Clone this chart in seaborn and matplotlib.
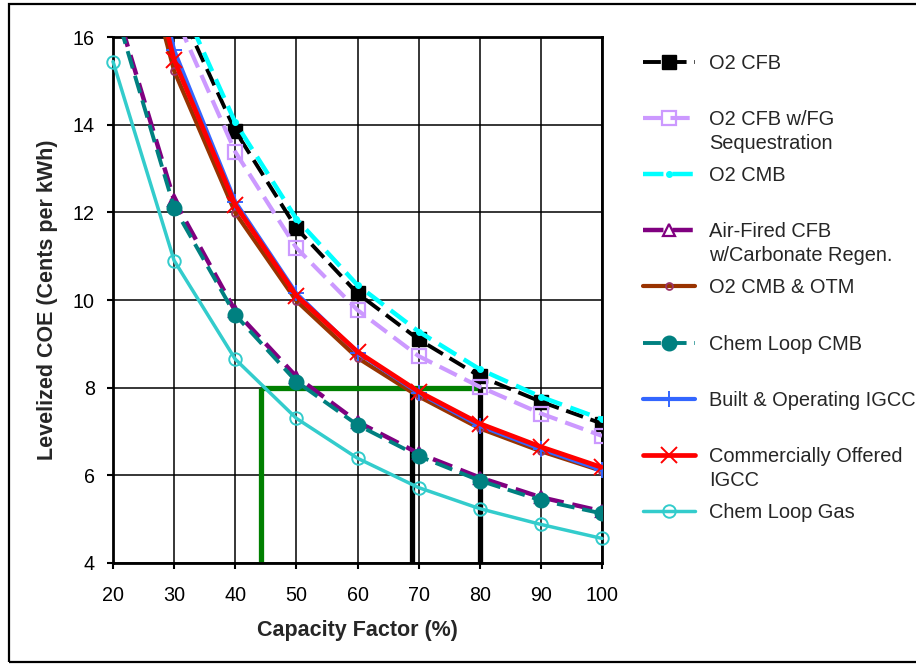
import matplotlib
matplotlib.use("Agg")
import matplotlib.pyplot as plt
import seaborn as sns
from matplotlib.patches import Rectangle

# ---------------- data ----------------
capacity_factor = [20, 30, 40, 50, 60, 70, 80, 90, 100]

o2_cfb          = [21.5, 16.90, 13.86, 11.64, 10.15, 9.10, 8.26, 7.68, 7.18]
o2_cfb_fg       = [21.0, 16.54, 13.38, 11.19, 9.77, 8.72, 8.02, 7.41, 6.90]
o2_cmb          = [22.0, 17.15, 14.05, 11.85, 10.34, 9.28, 8.42, 7.79, 7.28]
air_fired_cfb   = [16.9, 12.28, 9.75, 8.25, 7.22, 6.50, 5.95, 5.50, 5.18]
o2_cmb_otm      = [20.5, 15.23, 11.99, 9.98, 8.68, 7.80, 7.07, 6.55, 6.10]
chem_loop_cmb   = [16.8, 12.11, 9.66, 8.14, 7.15, 6.44, 5.88, 5.43, 5.13]
built_igcc      = [21.5, 15.70, 12.24, 10.15, 8.80, 7.88, 7.13, 6.60, 6.12]
commercial_igcc = [21.0, 15.48, 12.17, 10.10, 8.82, 7.91, 7.18, 6.65, 6.18]
chem_loop_gas   = [15.44, 10.90, 8.65, 7.30, 6.39, 5.72, 5.24, 4.88, 4.56]

series_names = ["O2 CFB", "O2 CFB w/FG\nSequestration", "O2 CMB",
                "Air-Fired CFB\nw/Carbonate Regen.", "O2 CMB & OTM",
                "Chem Loop CMB", "Built & Operating IGCC",
                "Commercially Offered\nIGCC", "Chem Loop Gas"]

# guide lines (green target line and black markers)
green_h_x = [44.2, 80.0]
green_h_y = [8.0, 8.0]
green_v_x = [44.2, 44.2]
green_v_y = [4.0, 8.0]
black_v1_x = [68.9, 68.9]
black_v1_y = [4.0, 8.0]
black_v2_x = [80.0, 80.0]
black_v2_y = [4.0, 8.0]

x_ticks = [20, 30, 40, 50, 60, 70, 80, 90, 100]
y_ticks = [4, 6, 8, 10, 12, 14, 16]

# ---------------- styling ----------------
sns.set_style("white")
plt.rcParams["font.family"] = ["Liberation Sans", "DejaVu Sans"]

W, H = 916, 665
fig = plt.figure(figsize=(W / 100, H / 100), dpi=100)
ax = fig.add_axes([113 / W, 1 - 563 / H, (602 - 113) / W, (563 - 37) / H])

dash = (0, (4.6, 2.0))
styles = [
    dict(color="#000000", linestyle=dash, linewidth=2.8, marker="s",
         markersize=10, markerfacecolor="#000000", markeredgecolor="#000000", markeredgewidth=1),
    dict(color="#CC99FF", linestyle=dash, linewidth=3.0, marker="s",
         markersize=9.5, markerfacecolor="none", markeredgecolor="#CC99FF", markeredgewidth=1.6),
    dict(color="#00FFFF", linestyle=dash, linewidth=3.2, marker="o",
         markersize=4, markerfacecolor="#00FFFF", markeredgecolor="#00FFFF", markeredgewidth=1),
    dict(color="#800080", linestyle=dash, linewidth=3.2, marker="^",
         markersize=9, markerfacecolor="none", markeredgecolor="#800080", markeredgewidth=1.6),
    dict(color="#993300", linestyle="-", linewidth=3.0, marker="o",
         markersize=5, markerfacecolor="none", markeredgecolor="#993366", markeredgewidth=1.3),
    dict(color="#008080", linestyle=dash, linewidth=2.8, marker="o",
         markersize=10.5, markerfacecolor="#008080", markeredgecolor="#008080", markeredgewidth=1),
    dict(color="#3366FF", linestyle="-", linewidth=3.0, marker="+",
         markersize=12, markeredgecolor="#3366FF", markeredgewidth=1.4),
    dict(color="#FF0000", linestyle="-", linewidth=3.4, marker="x",
         markersize=11, markeredgecolor="#FF0000", markeredgewidth=1.4),
    dict(color="#33CCCC", linestyle="-", linewidth=2.5, marker="o",
         markersize=9, markerfacecolor="none", markeredgecolor="#33CCCC", markeredgewidth=1.4),
]
all_series = [o2_cfb, o2_cfb_fg, o2_cmb, air_fired_cfb, o2_cmb_otm,
              chem_loop_cmb, built_igcc, commercial_igcc, chem_loop_gas]

handles = []
for i, (vals, name, st) in enumerate(zip(all_series, series_names, styles)):
    clip = not all(v <= 16 for v in vals)
    sns.lineplot(x=capacity_factor, y=vals, ax=ax, label=name, legend=False,
                 clip_on=clip, zorder=3 + i * 0.1, **st)
    handles.append(ax.get_lines()[-1])

# guide lines
ax.plot(green_h_x, green_h_y, color="#008000", linewidth=3.8, solid_capstyle="butt", zorder=2.5)
ax.plot(green_v_x, green_v_y, color="#008000", linewidth=3.8, solid_capstyle="butt", zorder=2.5)
ax.plot(black_v1_x, black_v1_y, color="#000000", linewidth=3.8, solid_capstyle="butt", zorder=2.5)
ax.plot(black_v2_x, black_v2_y, color="#000000", linewidth=3.8, solid_capstyle="butt", zorder=2.5)

ax.set_xlim(20, 100)
ax.set_ylim(4, 16)
ax.set_xticks(x_ticks)
ax.set_yticks(y_ticks)
ax.grid(True, color="black", linewidth=1.1)
ax.set_axisbelow(True)
for sp in ax.spines.values():
    sp.set_visible(True)
    sp.set_color("black")
    sp.set_linewidth(2)
ax.tick_params(axis="both", direction="out", length=4.5, width=1.5, colors="black",
               labelsize=14.2, left=True, bottom=True)
ax.tick_params(axis="x", pad=12)
ax.tick_params(axis="y", pad=8.5)

ax.set_xlabel("Capacity Factor (%)", fontsize=15.5, fontweight="bold")
ax.set_ylabel("Levelized COE (Cents per kWh)", fontsize=15.5, fontweight="bold")
ax.xaxis.set_label_coords(0.5, -0.108)
ax.yaxis.set_label_coords(-0.112, 0.5)

# legend with first lines only; second lines placed beneath
first_lines = [n.split("\n")[0] for n in series_names]
second_lines = [n.split("\n")[1] if "\n" in n else "" for n in series_names]
leg = fig.legend(handles, first_lines, loc="upper left",
                 bbox_to_anchor=(643 / W, 1 - 54 / H), frameon=False,
                 borderpad=0, borderaxespad=0, labelspacing=1.855,
                 handlelength=2.6, handletextpad=0.7, fontsize=14.4)
fig.canvas.draw()
for t, extra in zip(leg.get_texts(), second_lines):
    if extra:
        bb = t.get_window_extent()
        fig.text(bb.x0 / W, (bb.y0 - (24 - bb.height)) / H, extra,
                 va="top", ha="left", fontsize=14.4)

# outer frame
fig.add_artist(Rectangle((9 / W, 3 / H), 1.0, (662 - 4) / H, transform=fig.transFigure,
                         fill=False, edgecolor="black", linewidth=1.6))

fig.savefig("out.png", dpi=100)
